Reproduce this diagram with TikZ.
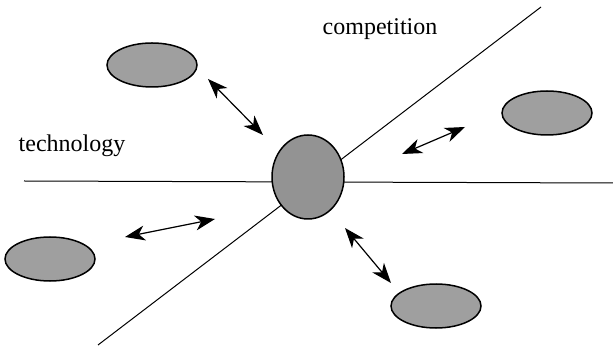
\documentclass[tikz,border=0pt]{standalone}
\usepackage{fontspec}
\setmainfont{Liberation Serif}
\usetikzlibrary{shapes.geometric,arrows.meta}

\begin{document}
\begin{tikzpicture}[x=0.5pt, y=-0.5pt, every node/.style={font=\fontsize{12}{14}\selectfont}, >={Stealth[length=10pt,width=7.5pt,inset=3pt]},
  blob/.style={ellipse, draw, line width=0.75pt, fill=gray!75, minimum width=45pt, minimum height=22pt, inner sep=0pt}]
\useasboundingbox (0,0) rectangle (613,346);
% axes
\coordinate (hl) at (24,181);
\coordinate (hr) at (613,183);
\coordinate (dl) at (98,345);
\coordinate (dr) at (541,7);
\draw[line width=0.5pt] (hl)--(hr);
\draw[line width=0.5pt] (dl)--(dr);
\node (comp) at (380,29) {competition};
\node (tech) at (72,146) {technology};
% firms
\node[blob, fill=gray!85, minimum width=36pt, minimum height=42pt] (c) at (308,177) {};
\node[blob] (nw) at (152,65) {};
\node[blob] (ne) at (547,113) {};
\node[blob] (sw) at (50,259) {};
\node[blob] (se) at (436,306) {};
% interactions
\coordinate (a1) at (208,79);  \coordinate (b1) at (263,135);
\coordinate (a2) at (465,127); \coordinate (b2) at (402,154);
\coordinate (a3) at (125,237); \coordinate (b3) at (215,219);
\coordinate (a4) at (345,228); \coordinate (b4) at (391,283);
\draw[<->,line width=0.6pt] (a1)--(b1);
\draw[<->,line width=0.6pt] (a2)--(b2);
\draw[<->,line width=0.6pt] (a3)--(b3);
\draw[<->,line width=0.6pt] (a4)--(b4);
\end{tikzpicture}
\end{document}
